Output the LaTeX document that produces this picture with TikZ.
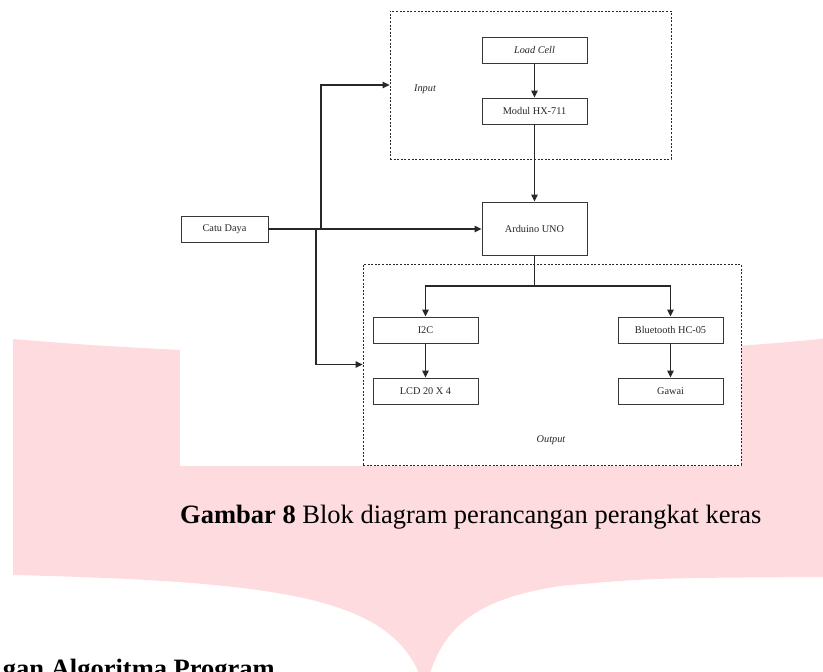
\documentclass[tikz,border=0pt]{standalone}
\usepackage{fontspec}
\setmainfont{Liberation Serif}
\usetikzlibrary{arrows.meta}
\definecolor{wmpink}{RGB}{253,219,222}
\definecolor{ink}{RGB}{40,40,40}
\definecolor{boxline}{RGB}{55,55,55}
\begin{document}
\begin{tikzpicture}[x=1pt,y=-1pt,
  box/.style={draw=boxline,line width=0.95pt,minimum width=105pt,minimum height=26pt,inner sep=0pt,font=\fontsize{10.3}{12}\selectfont,text=ink},
  grp/.style={draw=ink,line width=0.8pt,dash pattern=on 2pt off 1.6pt,inner sep=0pt},
  wire/.style={draw=ink,line width=1.15pt},
  arr/.style={wire,-{Triangle[length=7pt,width=6.5pt]}},
  lbl/.style={font=\fontsize{10.3}{12}\selectfont\itshape,text=ink},
  capt/.style={font=\fontsize{26.5}{30}\selectfont,text=black,inner sep=0pt}]
\useasboundingbox (0,0) rectangle (823,672);
\clip (0,0) rectangle (823,672);
% watermark
\fill[wmpink] (13,339) .. controls (250,360) and (600,362) .. (830,338) -- (830,577) -- (823,577)
  .. controls (650,578) .. (560,586) .. controls (470,600) and (440,630) .. (425,690)
  .. controls (400,600) and (300,582) .. (13,575) -- cycle;
\fill[white] (180,0) rectangle (741,466);
% group boxes
\node[grp,minimum width=281pt,minimum height=148pt] (inbox) at (530.5,85) {};
\node[grp,minimum width=378pt,minimum height=201pt] (outbox) at (552,364.5) {};
\node[lbl] (inlbl) at (425,89) {Input};
\node[lbl] (outlbl) at (551,440) {Output};
% blocks
\node[box] (lc) at (534.5,50) {\itshape Load Cell};
\node[box] (hx) at (534.5,111) {Modul HX-711};
\node[box,minimum height=53pt] (ard) at (534.5,228.5) {Arduino UNO};
\node[box,minimum width=87pt] (catu) at (224.5,229) {Catu Daya};
\node[box] (i2c) at (425.5,330) {I2C};
\node[box] (bt) at (670.5,330) {Bluetooth HC-05};
\node[box] (lcd) at (425.5,391) {LCD 20 X 4};
\node[box] (gw) at (670.5,391) {Gawai};
% connectors
\draw[arr] (lc) -- (hx);
\draw[arr] (hx) -- (ard);
\draw[arr] (catu.east) -- (catu.east -| ard.west);
\coordinate (j1) at (321,229);
\coordinate (j2) at (316,229);
\draw[arr] (j1) |- (inbox.west);
\draw[arr] (j2) |- (outbox.west);
\coordinate (br) at (534.5,286);
\draw[wire] (ard.south) -- (br);
\draw[arr] (br) -| (i2c.north);
\draw[arr] (br) -| (bt.north);
\draw[arr] (i2c) -- (lcd);
\draw[arr] (bt) -- (gw);
% caption
\node[capt,anchor=base west] (cap) at (180,523) {\textbf{Gambar 8} Blok diagram perancangan perangkat keras};
\node[capt,anchor=base east] (sec) at (275,677.5) {\textbf{gan Algoritma Program}};
\end{tikzpicture}
\end{document}
